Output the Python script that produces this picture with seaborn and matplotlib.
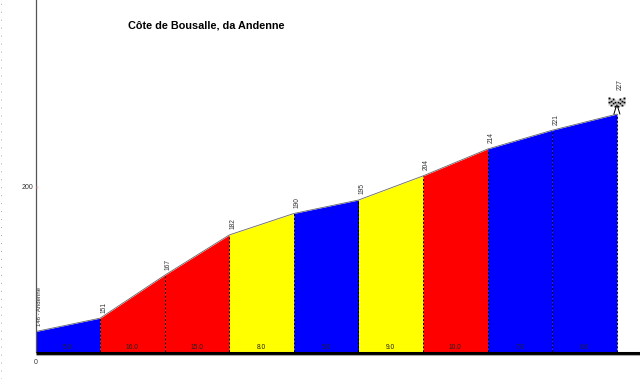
import matplotlib
matplotlib.use('Agg')
import matplotlib.pyplot as plt
import seaborn as sns
import pandas as pd

# profile data
km = [0.0, 0.1, 0.2, 0.3, 0.4, 0.5, 0.6, 0.7, 0.8, 0.9]
altitude = [146, 151, 167, 182, 190, 195, 204, 214, 221, 227]
gradient = ['5.0', '16.0', '15.0', '8.0', '5.0', '9.0', '10.0', '7.0', '6.0']
alt_labels = ['146 - Andenne', '151', '167', '182', '190', '195', '204', '214', '221', '227']
seg_colors = ['#0000ff', '#ff0000', '#ff0000', '#ffff00', '#0000ff', '#ffff00', '#ff0000', '#0000ff', '#0000ff']

sns.set_style('white')
plt.rcParams['font.family'] = ['Liberation Sans', 'DejaVu Sans']

W, H = 640, 379
fig = plt.figure(figsize=(W / 100, H / 100), dpi=100)
x0, x1 = 35.5, 640
y_bot, y_top = 352, 0
ax = fig.add_axes([x0 / W, 1 - y_bot / H, (x1 - x0) / W, (y_bot - y_top) / H])

# 64.6 px per 0.1 km, 2.685 px per metre
ax.set_xlim(0, (x1 - x0) / 646)
ax.set_ylim(138.4, 138.4 + y_bot / 2.685)

df = pd.DataFrame({'km': km, 'altitude': altitude})
for i, c in enumerate(seg_colors):
    ax.fill_between(km[i:i + 2], altitude[i:i + 2], 130, color=c, lw=0, zorder=1)
sns.lineplot(data=df, x='km', y='altitude', color='#666666', lw=0.6, ax=ax, zorder=2)

# dotted separators
for k, a in zip(km[1:], altitude[1:]):
    ax.plot([k, k], [130, a], color='black', lw=0.7, ls=(0, (2, 2)), zorder=3)

# labels
for k, a, lab in zip(km, altitude, alt_labels):
    dy = 17 if lab == '227' else 4
    fs = 4.3 if lab.startswith('146') else 4.8
    ax.annotate(lab, (k, a), xytext=(2.6, dy), textcoords='offset points', rotation=90,
                ha='center', va='bottom', fontsize=fs, color='#333333')
for i, g in enumerate(gradient):
    ax.annotate(g, ((km[i] + km[i + 1]) / 2, 138.4), xytext=(0, 1), textcoords='offset points',
                ha='center', va='bottom', fontsize=4.8, color='#222222', zorder=4)

# axes
ax.set_xlabel('')
ax.set_ylabel('')
ax.set_yticks([200])
ax.set_yticklabels(['200'], fontsize=5, color='#333333')
ax.set_xticks([0])
ax.set_xticklabels(['0'], fontsize=5, color='#333333')
ax.tick_params(axis='both', length=0, pad=1.5)
ax.tick_params(axis='x', pad=5)
ax.plot([0.002], [200], marker='s', ms=1.2, color='#ffb0b0', mec='none', zorder=5, clip_on=False)
for s in ['top', 'right', 'bottom']:
    ax.spines[s].set_visible(False)
ax.spines['left'].set_color('#555555')
ax.spines['left'].set_linewidth(0.9)

# base line: black band with grey underside
fig.add_artist(plt.Line2D([x0 / W, 1], [1 - 352.5 / H] * 2, color='black', lw=2.2, solid_capstyle='butt'))
fig.add_artist(plt.Line2D([x0 / W, 1], [1 - 354.6 / H] * 2, color='#aaaaaa', lw=0.8, solid_capstyle='butt'))

# dotted column on the far left edge
fig.add_artist(plt.Line2D([0.7 / W, 0.7 / W], [0, 1], color='#aaaaaa', lw=0.7, ls=(0, (1, 7.2))))

# chequered finish flags above the last point
fx, fy = ax.transData.transform((km[-1], altitude[-1]))
flag = fig.add_axes([0, 0, 1, 1], facecolor='none')
flag.set_xlim(0, W)
flag.set_ylim(0, H)
flag.axis('off')
flag.plot([fx - 3, fx, fx + 3], [fy, fy + 10, fy], color='black', lw=0.7)
for side in (-1, 1):
    for i in range(4):
        for j in range(4):
            px = fx + side * (1.5 + 2 * i)
            py = fy + 9 + 2 * j + (i - 1) * 0.6
            shade = 'black' if (i + j) % 2 == 0 else '#cccccc'
            flag.plot(px, py, 's', ms=1.5, color=shade, mec='none')

fig.text(206.5 / W, 1 - 26 / H, 'Côte de Bousalle, da Andenne', ha='center', va='center',
         fontsize=7.8, fontweight='bold', color='black')

fig.savefig('out.png', dpi=100)
